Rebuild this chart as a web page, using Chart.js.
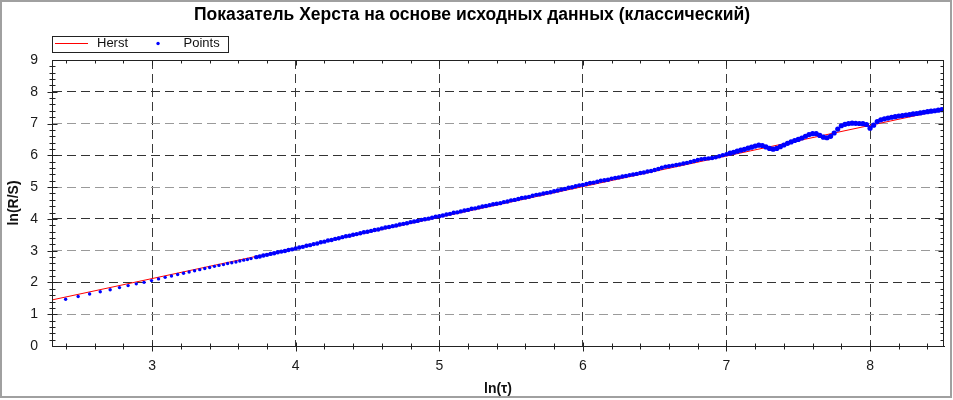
<!DOCTYPE html>
<html>
<head>
<meta charset="utf-8">
<script src="https://cdn.jsdelivr.net/npm/chart.js@4.4.1/dist/chart.umd.min.js"></script>
<style>
html,body{margin:0;padding:0;background:#fff;}
#c{display:block;width:953px;height:400px;}
</style>
</head>
<body>
<canvas id="c" width="953" height="400"></canvas>
<script>
// ---------- text ----------
const titleText = 'Показатель Херста на основе исходных данных (классический)';
const xTitle = 'ln(τ)';
const yTitle = 'ln(R/S)';
const seriesNames = ['Herst', 'Points'];

// ---------- axes ----------
const xMin = 2.303, xMax = 8.515;
const yMin = 0, yMax = 9;
const xTicks = [3, 4, 5, 6, 7, 8];
const yTicks = [0, 1, 2, 3, 4, 5, 6, 7, 8, 9];

// ---------- Herst regression line ----------
const herstX = [2.303, 8.515];
const herstY = [1.45, 7.44];

// ---------- Points: sparse small-tau points ----------
const sparseX = [2.398,2.485,2.565,2.639,2.708,2.773,2.833,2.890,2.944,2.996,
  3.045,3.091,3.135,3.178,3.219,3.258,3.296,3.332,3.367,3.401,
  3.434,3.466,3.497,3.526,3.555,3.584,3.611,3.638,3.664,3.689];
const sparseY = [1.472,1.556,1.638,1.709,1.771,1.838,1.901,1.956,2.003,2.058,
  2.111,2.160,2.202,2.249,2.288,2.331,2.368,2.402,2.441,2.469,
  2.506,2.536,2.561,2.594,2.622,2.645,2.676,2.702,2.722,2.751];

// ---------- Points: dense part ----------
const denseX = [
  3.725,3.75,3.775,3.8,3.825,3.85,3.875,3.9,
  3.925,3.95,3.975,4,4.025,4.05,4.075,4.1,
  4.125,4.15,4.175,4.2,4.225,4.25,4.275,4.3,
  4.325,4.35,4.375,4.4,4.425,4.45,4.475,4.5,
  4.525,4.55,4.575,4.6,4.625,4.65,4.675,4.7,
  4.725,4.75,4.775,4.8,4.825,4.85,4.875,4.9,
  4.925,4.95,4.975,5,5.025,5.05,5.075,5.1,
  5.125,5.15,5.175,5.2,5.225,5.25,5.275,5.3,
  5.325,5.35,5.375,5.4,5.425,5.45,5.475,5.5,
  5.525,5.55,5.575,5.6,5.625,5.65,5.675,5.7,
  5.725,5.75,5.775,5.8,5.825,5.85,5.875,5.9,
  5.925,5.95,5.975,6,6.025,6.05,6.075,6.1,
  6.125,6.15,6.175,6.2,6.225,6.25,6.275,6.3,
  6.325,6.35,6.375,6.4,6.425,6.45,6.475,6.5,
  6.525,6.55,6.575,6.6,6.625,6.65,6.675,6.7,
  6.725,6.75,6.775,6.8,6.825,6.85,6.875,6.9,
  6.925,6.95,6.975,7,7.025,7.05,7.075,7.1,
  7.125,7.15,7.175,7.2,7.225,7.25,7.275,7.3,
  7.325,7.35,7.375,7.4,7.425,7.45,7.475,7.5,
  7.525,7.55,7.575,7.6,7.625,7.65,7.675,7.7,
  7.725,7.75,7.775,7.8,7.825,7.85,7.875,7.9,
  7.925,7.95,7.975,8,8.025,8.05,8.075,8.1,
  8.125,8.15,8.175,8.2,8.225,8.25,8.275,8.3,
  8.325,8.35,8.375,8.4,8.425,8.45,8.475,8.5
];
const denseY = [
  2.796,2.815,2.849,2.869,2.898,2.917,2.951,2.970,
  2.989,3.023,3.042,3.071,3.100,3.120,3.154,3.173,
  3.207,3.226,3.265,3.284,3.318,3.337,3.371,3.391,
  3.425,3.454,3.468,3.502,3.521,3.550,3.579,3.593,
  3.622,3.652,3.666,3.700,3.729,3.743,3.772,3.791,
  3.825,3.844,3.863,3.898,3.917,3.936,3.970,3.989,
  4.008,4.037,4.066,4.085,4.105,4.139,4.158,4.192,
  4.206,4.235,4.264,4.283,4.317,4.332,4.361,4.390,
  4.404,4.433,4.462,4.476,4.495,4.529,4.548,4.583,
  4.597,4.626,4.655,4.674,4.693,4.727,4.756,4.770,
  4.799,4.819,4.838,4.872,4.891,4.925,4.944,4.978,
  4.997,5.026,5.056,5.070,5.099,5.128,5.142,5.171,
  5.200,5.214,5.233,5.268,5.287,5.306,5.335,5.349,
  5.378,5.397,5.416,5.445,5.460,5.489,5.508,5.537,
  5.571,5.610,5.644,5.658,5.677,5.697,5.716,5.745,
  5.764,5.793,5.822,5.851,5.880,5.894,5.904,5.918,
  5.937,5.971,6.005,6.034,6.068,6.097,6.131,6.161,
  6.190,6.224,6.258,6.292,6.321,6.310,6.264,6.218,
  6.193,6.217,6.271,6.325,6.379,6.423,6.467,6.501,
  6.545,6.600,6.654,6.683,6.682,6.626,6.570,6.554,
  6.598,6.703,6.827,6.931,6.975,6.999,7.013,7.007,
  7.001,6.995,6.970,6.854,6.948,7.062,7.116,7.150,
  7.174,7.198,7.217,7.237,7.251,7.270,7.284,7.303,
  7.317,7.336,7.355,7.374,7.389,7.403,7.422,7.436
];

// ---------- build datasets ----------
const herstData = herstX.map((x, i) => ({x: x, y: herstY[i]}));
const pointsData = sparseX.map((x, i) => ({x: x, y: sparseY[i]}))
  .concat(denseX.map((x, i) => ({x: x, y: denseY[i]})));

const FONT = "'Liberation Sans', Arial, Helvetica, sans-serif";
Chart.defaults.font.family = FONT;
Chart.defaults.color = '#111';

const HERST_COLOR = '#ff0000';
const POINT_COLOR = '#0000ff';

function makeSwatch(w, h) {
  const c = document.createElement('canvas');
  c.width = w; c.height = h;
  return c;
}
const blankSwatch = makeSwatch(33, 3);

const LEG_PAD = 11;
const LEG_BOX = 38;
const LEG_FONT = 13;

const decor = {
  id: 'decor',
  beforeDraw(chart) {
    const c = chart.ctx;
    c.save(); c.fillStyle = '#fff'; c.fillRect(0, 0, chart.width, chart.height); c.restore();
  },
  afterLayout(chart) {
    if (chart.legend) chart.legend.left = Math.floor(chart.chartArea.left) + 0.5 - LEG_PAD;
  },
  afterDraw(chart) {
    const c = chart.ctx, a = chart.chartArea, xs = chart.scales.x, ys = chart.scales.y;
    const L = Math.floor(a.left) + 0.5, R = Math.floor(a.right) - 0.5;
    const T = Math.floor(a.top) + 0.5, B = Math.floor(a.bottom) + 0.5;
    c.save();
    c.strokeStyle = '#222';
    c.lineWidth = 1;
    c.beginPath();
    for (let i = Math.ceil(xMin * 5); i <= Math.floor(xMax * 5); i++) {
      const major = i % 5 === 0;
      const px = Math.round(xs.getPixelForValue(i / 5)) + 0.5;
      c.moveTo(px, B - (major ? 4 : 3)); c.lineTo(px, B + (major ? 5 : 3));
      c.moveTo(px, T); c.lineTo(px, T + (major ? 5 : 3));
    }
    for (let i = 1; i < yMax * 5; i++) {
      const major = i % 5 === 0;
      const py = Math.round(ys.getPixelForValue(i / 5)) + 0.5;
      c.moveTo(L - (major ? 5 : 3), py); c.lineTo(L + (major ? 5 : 3), py);
      c.moveTo(R, py); c.lineTo(R - (major ? 5 : 3), py);
    }
    c.stroke();
    c.strokeRect(L, T, R - L, B - T);
    // legend frame and samples
    if (chart.legend) {
      const lg = chart.legend;
      const top = Math.floor(lg.top) + 10.5;
      c.strokeRect(L, top, 176, 16);
      const x1 = lg.left + LEG_PAD;
      const cy = Math.floor(lg.top + LEG_PAD + LEG_FONT / 2);
      c.fillStyle = HERST_COLOR;
      c.fillRect(Math.round(x1 + LEG_BOX / 2 - 16.5), cy, 33, 1);
      c.font = LEG_FONT + 'px ' + FONT;
      const tw = c.measureText(seriesNames[0]).width;
      const x2 = x1 + LEG_BOX + LEG_FONT / 2 + tw + LEG_PAD;
      c.fillStyle = POINT_COLOR;
      c.beginPath();
      c.arc(x2 + LEG_BOX / 2, cy + 0.5, 1.7, 0, Math.PI * 2);
      c.fill();
    }
    // outer frame
    c.strokeStyle = '#a0a0a0';
    c.lineWidth = 2;
    c.strokeRect(1, 1, chart.width - 3, chart.height - 4);
    c.restore();
  }
};

new Chart(document.getElementById('c'), {
  type: 'scatter',
  data: {
    datasets: [
      {
        label: seriesNames[0],
        data: herstData,
        showLine: true,
        borderColor: HERST_COLOR,
        backgroundColor: HERST_COLOR,
        borderWidth: 1,
        pointRadius: 0,
        pointHoverRadius: 0,
        fill: false,
        order: 1
      },
      {
        label: seriesNames[1],
        data: pointsData,
        backgroundColor: POINT_COLOR,
        borderWidth: 0,
        pointStyle: 'circle',
        pointRadius: ctx => { const r = ctx.raw; if (!r) return 2; return r.x < 3.7 ? 1.7 : (r.x > 7 ? 2.6 : 2.2); },
        pointHoverRadius: ctx => { const r = ctx.raw; if (!r) return 2; return r.x < 3.7 ? 1.7 : (r.x > 7 ? 2.6 : 2.2); },
        order: 0
      }
    ]
  },
  options: {
    responsive: false,
    animation: false,
    devicePixelRatio: 1,
    events: [],
    layout: { padding: { left: 0, right: 9, top: 0, bottom: 0 } },
    plugins: {
      title: {
        display: true,
        text: titleText,
        color: '#000',
        font: { family: FONT, size: 17.5, weight: 'bold' },
        padding: { top: 4.5, bottom: 0.5 }
      },
      legend: {
        display: true,
        position: 'top',
        align: 'start',
        onClick: null,
        labels: {
          usePointStyle: true,
          pointStyleWidth: LEG_BOX,
          padding: LEG_PAD,
          color: '#111',
          font: { family: FONT, size: LEG_FONT },
          generateLabels: () => [
            { text: seriesNames[0], pointStyle: blankSwatch, fillStyle: HERST_COLOR, strokeStyle: HERST_COLOR, lineWidth: 0, hidden: false, datasetIndex: 0, fontColor: '#111' },
            { text: seriesNames[1], pointStyle: blankSwatch, fillStyle: POINT_COLOR, strokeStyle: POINT_COLOR, lineWidth: 0, hidden: false, datasetIndex: 1, fontColor: '#111' }
          ]
        }
      },
      tooltip: { enabled: false }
    },
    scales: {
      x: {
        type: 'linear',
        min: xMin,
        max: xMax,
        afterBuildTicks: s => { s.ticks = xTicks.map(v => ({ value: v })); },
        afterFit: s => { s.height = 54; },
        ticks: { color: '#1a1a1a', font: { family: FONT, size: 14 }, padding: 11.5, autoSkip: false, maxRotation: 0 },
        grid: { color: '#3a3a3a', lineWidth: 1, drawTicks: false },
        border: { display: true, color: '#222', dash: [9, 5] },
        title: { display: true, text: xTitle, color: '#111', font: { family: FONT, size: 14, weight: 'bold' }, padding: { top: 0, bottom: 2.6 } }
      },
      y: {
        type: 'linear',
        min: yMin,
        max: yMax,
        afterBuildTicks: s => { s.ticks = yTicks.map(v => ({ value: v })); },
        afterFit: s => { s.width = 52; },
        ticks: { color: '#1a1a1a', font: { family: FONT, size: 14 }, padding: 14 },
        grid: {
          lineWidth: 1,
          drawTicks: false,
          color: ctx => {
            const v = ctx.tick ? ctx.tick.value : null;
            if (v === 0 || v === 9) return 'rgba(0,0,0,0)';
            return (v % 2 === 0) ? '#333' : '#9a9a9a';
          }
        },
        border: { display: true, color: '#222', dash: [9, 5] },
        title: { display: true, text: yTitle, color: '#111', font: { family: FONT, size: 14, weight: 'bold' }, padding: { top: 6, bottom: 0 } }
      }
    }
  },
  plugins: [decor]
});
</script>
</body>
</html>
